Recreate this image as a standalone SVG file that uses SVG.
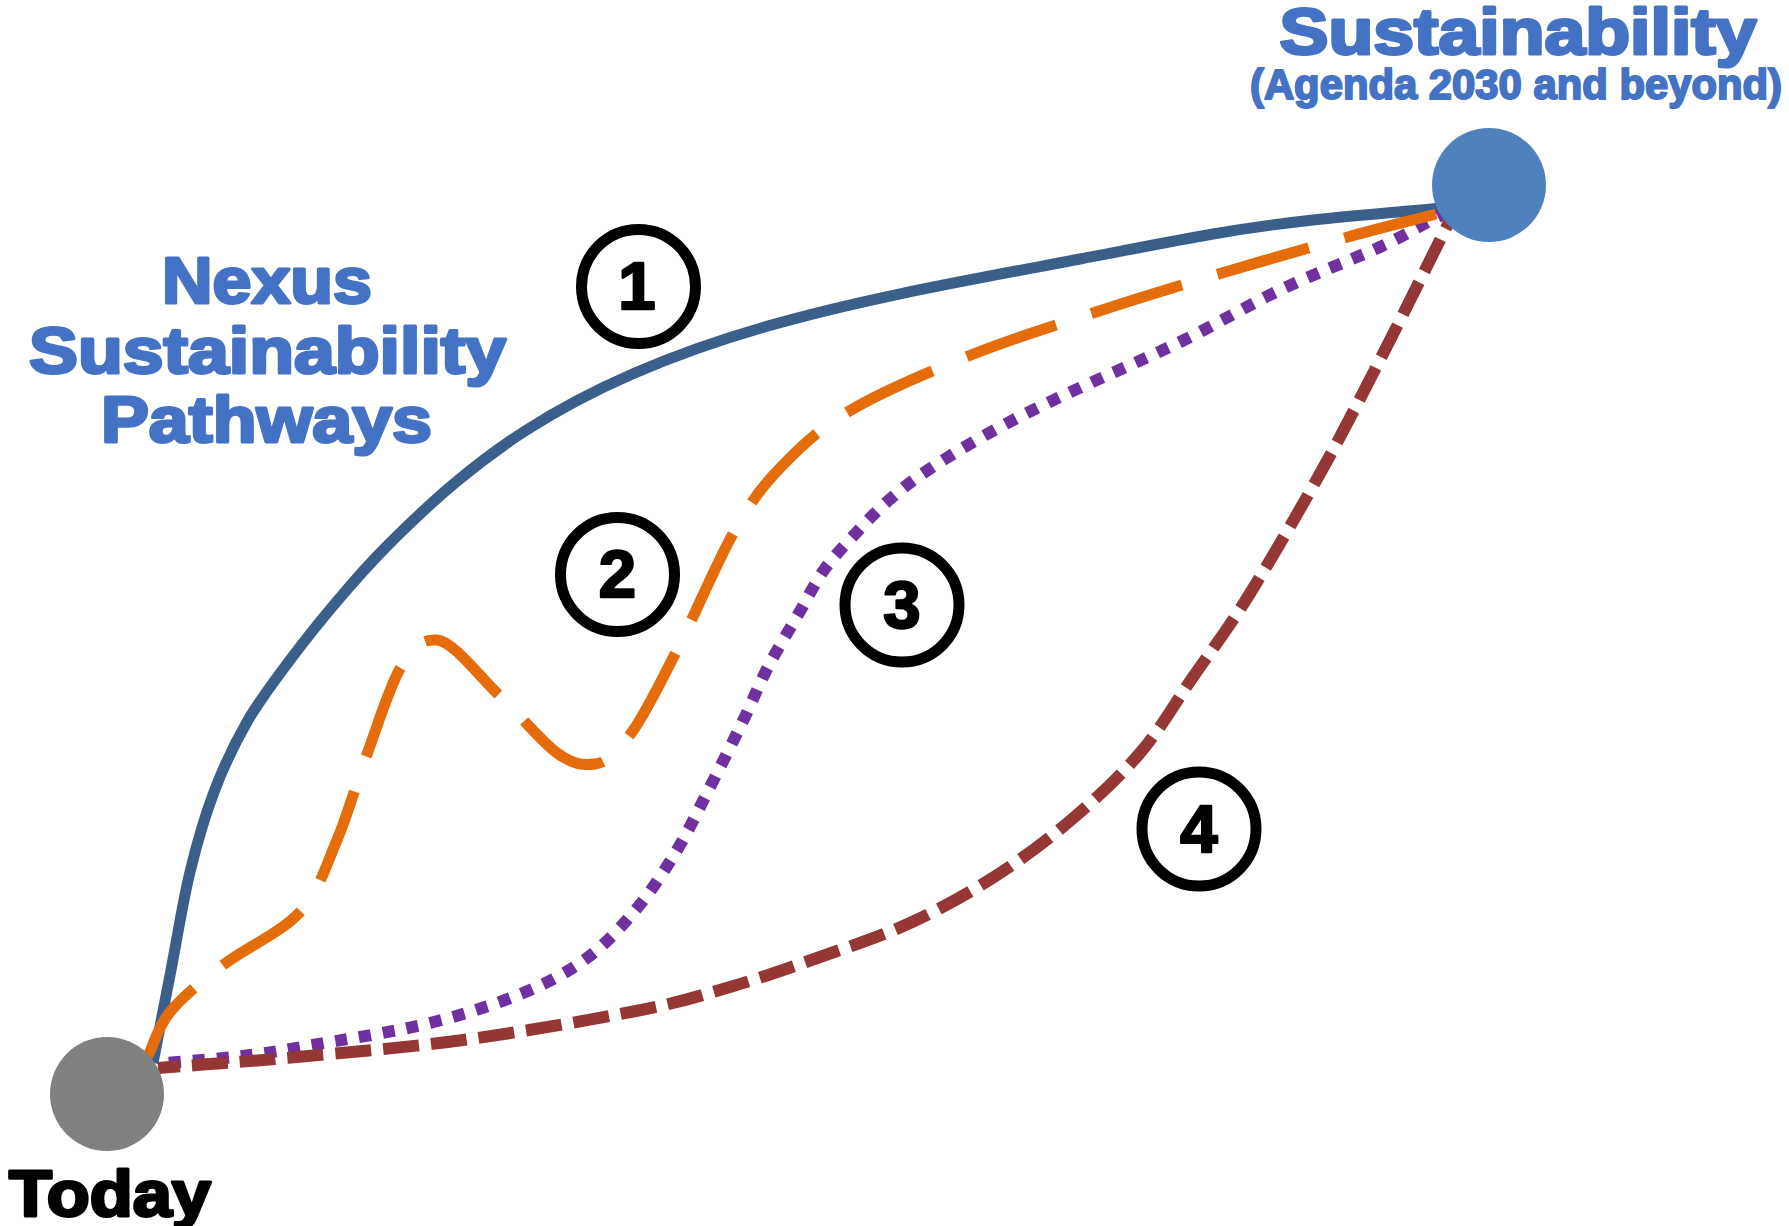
<svg xmlns="http://www.w3.org/2000/svg" width="1789" height="1226" viewBox="0 0 1789 1226">
<style>
.title{font-family:"Liberation Sans",Arial,sans-serif;font-weight:bold;fill:#4472C4;stroke:#4472C4;stroke-linejoin:round;text-anchor:middle}
.big{font-size:64px;stroke-width:3px}
.sub{font-size:42px;stroke-width:2px}
.today{font-family:"Liberation Sans",Arial,sans-serif;font-weight:bold;font-size:64px;fill:#000;stroke:#000;stroke-width:3px;stroke-linejoin:round;text-anchor:middle}
.num circle{fill:none;stroke:#000;stroke-width:11}
.num text{font-family:"Liberation Sans",Arial,sans-serif;font-weight:bold;font-size:67px;fill:#000;stroke:#000;stroke-width:2.5px;stroke-linejoin:round;text-anchor:middle}
.path{fill:none;stroke-linecap:butt}
</style>

<g id="connectors">
  <path id="pathway-1" class="path" stroke="#3A5F8B" stroke-width="11" d="M153,1063 C159,1032 164.8,1001.8 171,970 C177.2,938.2 182.8,901.7 190,872 C197.2,842.3 204.5,817 214,792 C223.5,767 234.3,744 247,722 C259.7,700 274.8,680.3 290,660 C305.2,639.7 321.7,619.2 338,600 C354.3,580.8 368.3,564.7 388,545 C407.7,525.3 433.2,501 456,482 C478.8,463 500.2,447 525,431 C685,327.8 880,297 1080,259 C1120,251.5 1174.2,240.7 1213,234 C1251.8,227.3 1274.8,224.3 1313,220 C1351.2,215.7 1399,212 1442,208"/>
  <path id="pathway-3" class="path" stroke="#7030A0" stroke-width="12" stroke-dasharray="12 12" stroke-dashoffset="12" d="M157,1064 C185,1061 218.3,1059 243,1056 C267.7,1053 281.8,1050.5 313,1045 C344.2,1039.5 395,1031.7 430,1023 C465,1014.3 496.8,1003.8 523,993 C549.2,982.2 567.8,972.3 587,958 C606.2,943.7 623,925 638,907 C653,889 665.5,869 677,850 C688.5,831 696.2,814.2 707,793 C717.8,771.8 731.8,744 742,723 C752.2,702 758.5,685.3 768,667 C777.5,648.7 789.7,629.2 799,613 C808.3,596.8 814.5,583.3 824,570 C833.5,556.7 845.2,544.7 856,533 C866.8,521.3 877,510.5 889,500 C901,489.5 911.3,481.2 928,470 C944.7,458.8 967,445.2 989,433 C1011,420.8 1028.2,412.2 1060,397 C1091.8,381.8 1143.3,359.8 1180,342 C1216.7,324.2 1246.7,305.8 1280,290 C1313.3,274.2 1353.3,259.2 1380,247 C1406.7,234.8 1422,224 1446,213"/>
  <path id="pathway-4" class="path" stroke="#953735" stroke-width="12" stroke-dasharray="36 12" stroke-dashoffset="14" d="M158,1068 C204.3,1064.3 246.2,1061.7 297,1057 C347.8,1052.3 406.5,1047.7 463,1040 C519.5,1032.3 591.5,1019.8 636,1011 C680.5,1002.2 699.3,996 730,987 C760.7,978 790,967.7 820,957 C850,946.3 881,936.3 910,923 C939,909.7 967.2,894.2 994,877 C1020.8,859.8 1046.7,840.7 1071,820 C1095.3,799.3 1119.7,776.8 1140,753 C1160.3,729.2 1174.8,703.3 1193,677 C1211.2,650.7 1227.5,629.5 1249,595 C1270.5,560.5 1298.8,511.8 1322,470 C1345.2,428.2 1366.7,385.7 1388,344 C1409.3,302.3 1429.3,261.3 1450,220"/>
  <path id="pathway-2" class="path" stroke="#E46C0A" stroke-width="11" stroke-dasharray="95 37" stroke-dashoffset="12" d="M148,1056 C155.3,1041.3 157.5,1027.2 170,1012 C182.5,996.8 201.3,981.7 223,965 C244.7,948.3 281,932.8 300,912 C319,891.2 326,865.8 337,840 C348,814.2 355.3,785.8 366,757 C376.7,728.2 389.2,686.5 401,667 C412.8,647.5 421,639 437,640 C453,641 479,676.2 499,695 C519,713.8 541,741.5 557,753 C573,764.5 582.5,765.5 595,764 C607.5,762.5 618.3,751 632,732 C645.7,713 659.8,683.7 677,650 C694.2,616.3 717.7,560.5 735,530 C752.3,499.5 761.7,487 781,467 C800.3,447 819.3,428.7 851,410 C882.7,391.3 930.2,371.3 971,355 C1011.8,338.7 1054.2,325.7 1096,312 C1137.8,298.3 1180,285.5 1222,273 C1264,260.5 1311.7,247 1348,237 C1384.3,227 1409.3,221 1440,213"/>
</g>

<g id="node-today">
  <circle cx="107" cy="1094" r="57" fill="#808080"/>
  <text class="today" x="110" y="1216" textLength="202" lengthAdjust="spacingAndGlyphs">Today</text>
</g>

<g id="node-sustainability">
  <circle cx="1489" cy="185" r="57" fill="#4F81BD"/>
  <text class="title big" x="1518" y="54" textLength="477" lengthAdjust="spacingAndGlyphs">Sustainability</text>
  <text class="title sub" x="1516" y="99" textLength="532" lengthAdjust="spacingAndGlyphs">(Agenda 2030 and beyond)</text>
</g>

<g id="label-nexus">
  <text class="title big" x="267" y="303" textLength="210" lengthAdjust="spacingAndGlyphs">Nexus</text>
  <text class="title big" x="267.5" y="373" textLength="477" lengthAdjust="spacingAndGlyphs">Sustainability</text>
  <text class="title big" x="266.5" y="442" textLength="331" lengthAdjust="spacingAndGlyphs">Pathways</text>
</g>

<g id="marker-1" class="num">
  <circle cx="638.5" cy="286.5" r="57"/>
  <text x="637" y="309">1</text>
</g>
<g id="marker-2" class="num">
  <circle cx="617.5" cy="574.5" r="57"/>
  <text x="617.5" y="597">2</text>
</g>
<g id="marker-3" class="num">
  <circle cx="902" cy="605" r="57"/>
  <text x="902" y="628">3</text>
</g>
<g id="marker-4" class="num">
  <circle cx="1199" cy="829" r="57"/>
  <text x="1199" y="852">4</text>
</g>
</svg>
